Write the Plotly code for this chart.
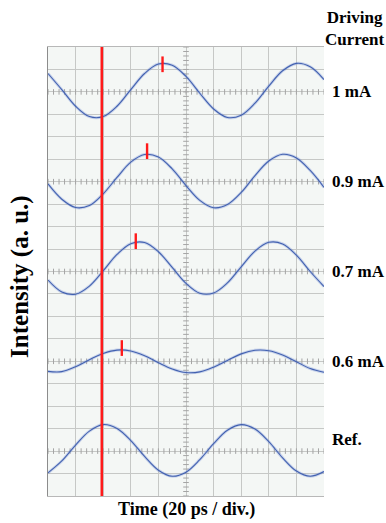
import plotly.graph_objects as go

# ---------------- data (in screen divisions) ----------------
time_div = [0.0, 0.5, 1.0, 1.5, 2.0, 2.5, 3.0, 3.5, 4.0, 4.5, 5.0,
            5.5, 6.0, 6.5, 7.0, 7.5, 8.0, 8.5, 9.0, 9.5, 10.0]

i_1mA = [0.82, 0.10, -0.64, -1.10, -1.10, -0.64, 0.10, 0.82, 1.24, 1.19, 0.69,
         -0.06, -0.76, -1.14, -1.04, -0.50, 0.26, 0.94, 1.27, 1.12, 0.55]
i_09mA = [-0.10, -0.78, -1.15, -1.06, -0.54, 0.19, 0.87, 1.21, 1.10, 0.57, -0.17,
          -0.83, -1.16, -1.02, -0.48, 0.27, 0.92, 1.22, 1.06, 0.50, -0.25]
i_07mA = [-0.38, -0.91, -1.01, -0.65, 0.03, 0.76, 1.24, 1.29, 0.88, 0.18, -0.53,
          -0.97, -0.96, -0.51, 0.21, 0.91, 1.30, 1.23, 0.73, 0.00, -0.67]
i_06mA = [-0.45, -0.46, -0.24, 0.07, 0.35, 0.50, 0.46, 0.25, -0.06, -0.34, -0.50,
          -0.47, -0.26, 0.04, 0.33, 0.49, 0.47, 0.28, -0.02, -0.32, -0.49]
i_ref = [-0.97, -0.44, 0.27, 0.89, 1.18, 1.01, 0.47, -0.24, -0.85, -1.12, -0.94,
         -0.38, 0.33, 0.93, 1.18, 0.98, 0.42, -0.30, -0.89, -1.12, -0.91]

labels = ["1 mA", "0.9 mA", "0.7 mA", "0.6 mA", "Ref."]
series = [i_1mA, i_09mA, i_07mA, i_06mA, i_ref]

peak_time = [4.15, 3.59, 3.18, 2.675]
peak_level = [1.23, 1.36, 1.35, 0.59]
ref_time = 1.95

# ---------------- figure ----------------
N_DIV_X = 10
N_DIV_Y = 20
centers = [N_DIV_Y - 2 - 4 * k for k in range(len(series))]

fig = go.Figure()

# graticule tick marks on centre lines
tick_x = [k * 0.2 for k in range(int(N_DIV_X / 0.2) + 1)]
for c in centers:
    fig.add_trace(go.Scatter(x=tick_x, y=[c] * len(tick_x), mode="markers",
                             marker=dict(symbol="line-ns", size=4,
                                         line=dict(width=1, color="#a4a4a4")),
                             hoverinfo="skip", showlegend=False))
tick_y = [k * 0.2 for k in range(int(N_DIV_Y / 0.2) + 1)]
fig.add_trace(go.Scatter(x=[N_DIV_X / 2] * len(tick_y), y=tick_y, mode="markers",
                         marker=dict(symbol="line-ew", size=4,
                                     line=dict(width=1, color="#a4a4a4")),
                         hoverinfo="skip", showlegend=False))

# waveforms
for vals, c in zip(series, centers):
    yy = [v + c for v in vals]
    fig.add_trace(go.Scatter(x=time_div, y=yy, mode="lines",
                             line=dict(color="rgba(100,130,210,0.30)", width=3.0,
                                       shape="spline", smoothing=1.0),
                             hoverinfo="skip", showlegend=False))
    fig.add_trace(go.Scatter(x=time_div, y=yy, mode="lines",
                             line=dict(color="#4261b0", width=1.1,
                                       shape="spline", smoothing=1.0),
                             showlegend=False))

# reference time line
fig.add_trace(go.Scatter(x=[ref_time, ref_time], y=[0, N_DIV_Y], mode="lines",
                         line=dict(color="#ff1a1a", width=2.6), showlegend=False))

# peak markers
for t, lv, c in zip(peak_time, peak_level, centers):
    fig.add_trace(go.Scatter(x=[t, t], y=[c + lv - 0.35, c + lv + 0.35], mode="lines",
                             line=dict(color="#ff1a1a", width=2.4), showlegend=False))

serif = "Liberation Serif, Times New Roman, serif"

annotations = []
for lab, c in zip(labels, centers):
    yoff = 0.5 if lab == "Ref." else 0.0
    annotations.append(dict(x=1.0, xref="paper", xanchor="left", xshift=6,
                            y=c + yoff, yref="y", yanchor="middle",
                            text="<b>%s</b>" % lab, showarrow=False,
                            font=dict(family=serif, size=17, color="black")))
annotations.append(dict(x=1.112, xref="paper", xanchor="center",
                        y=1.0, yref="paper", yanchor="bottom", yshift=-4,
                        text="<b>Driving</b><br><b>Current</b>", showarrow=False,
                        font=dict(family=serif, size=17, color="black"),
                        align="center"))
annotations.append(dict(x=0.5, xref="paper", xanchor="center",
                        y=0, yref="paper", yanchor="middle", yshift=-13,
                        text="<b>Time (20 ps / div.)</b>", showarrow=False,
                        font=dict(family=serif, size=18, color="black")))
annotations.append(dict(x=0, xref="paper", xanchor="center", xshift=-28,
                        y=0.488, yref="paper", yanchor="middle", textangle=-90,
                        text="<b>Intensity (a. u.)</b>", showarrow=False,
                        font=dict(family=serif, size=25, color="black")))

fig.update_layout(
    width=386, height=523,
    margin=dict(l=48, r=62, t=47, b=27),
    paper_bgcolor="white",
    plot_bgcolor="#f4f7f5",
    annotations=annotations,
    xaxis=dict(range=[0, N_DIV_X], dtick=1, tick0=0, showticklabels=False,
               ticks="", showgrid=True, gridcolor="#c6c8c6", gridwidth=1,
               zeroline=False, showline=True, linecolor="#b8b8b8", mirror=True,
               automargin=False),
    yaxis=dict(range=[0, N_DIV_Y], dtick=1, tick0=0, showticklabels=False,
               ticks="", showgrid=True, gridcolor="#c6c8c6", gridwidth=1,
               zeroline=False, showline=True, linecolor="#8c8c8c", mirror=False,
               automargin=False),
)

fig.write_html("out.html",
               config={"displayModeBar": False},
               post_script="document.body.style.margin='0';"
                           "document.body.style.overflow='hidden';")
